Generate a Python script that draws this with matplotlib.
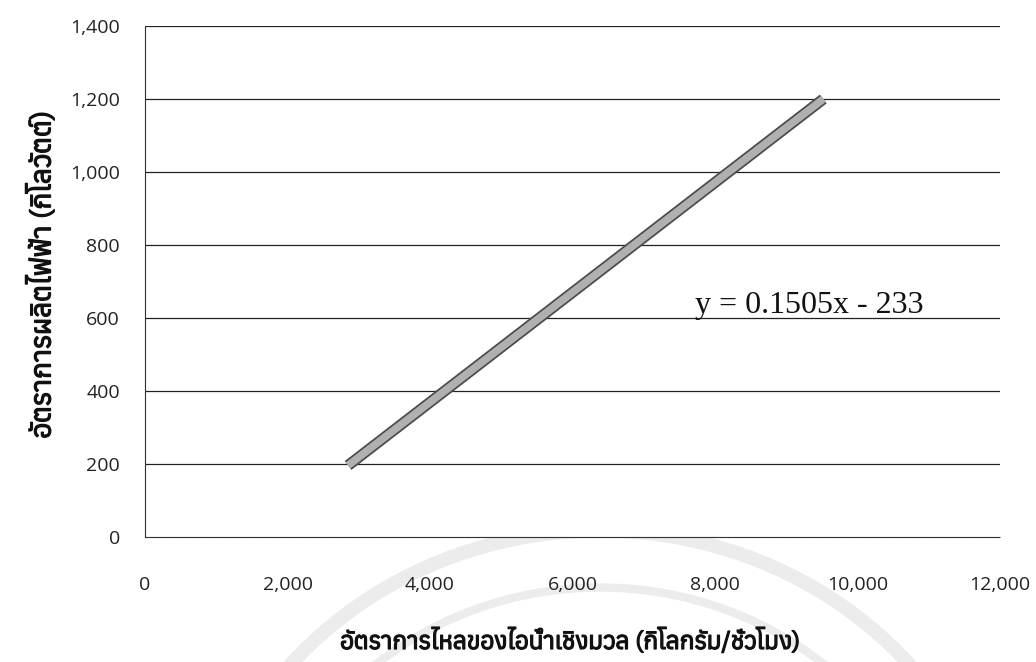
import matplotlib
matplotlib.use("Agg")
import matplotlib.pyplot as plt
from matplotlib import font_manager
from matplotlib.ft2font import FT2Font
import matplotlib.patheffects as pe
from matplotlib.patches import Arc

# Data
x_values = [2850, 9520]
y_values = [196, 1200]
x_ticks = [0, 2000, 4000, 6000, 8000, 10000, 12000]
y_ticks = [0, 200, 400, 600, 800, 1000, 1200, 1400]
equation = "y = 0.1505x - 233"
x_label = "อัตราการไหลของไอน้ำเชิงมวล (กิโลกรัม/ชั่วโมง)"
y_label = "อัตราการผลิตไฟฟ้า (กิโลวัตต์)"

# find a Thai-capable font
thai_fonts = []
for f in font_manager.fontManager.ttflist:
    try:
        ft = FT2Font(f.fname)
        if ft.get_char_index(ord("อ")) != 0:
            thai_fonts.append(f)
    except Exception:
        pass
thai_names = sorted({f.name for f in thai_fonts})
thai_family = thai_names[:3] + ["DejaVu Sans"]

fig = plt.figure(figsize=(10.36, 6.62), dpi=100)
ax = fig.add_axes([145/1036, 1-537/662, 855/1036, 511/662])

ax.plot(x_values, y_values, color="#b0b0b0", linewidth=5.5, solid_capstyle="butt",
        path_effects=[pe.Stroke(linewidth=8, foreground="#4a4a4a"), pe.Normal()], zorder=3)

ax.set_xlim(0, 12000)
ax.set_ylim(0, 1400)
ax.set_xticks(x_ticks)
ax.set_yticks(y_ticks)
tick_font = dict(fontsize=14, fontfamily="Open Sans", color="#222222")
ax.set_xticklabels([f"{v:,}" for v in x_ticks], **tick_font)
ax.set_yticklabels([f"{v:,}" for v in y_ticks], **tick_font)
ax.tick_params(length=0)
ax.tick_params(axis="x", pad=28)
ax.tick_params(axis="y", pad=18)
for yv in y_ticks[1:]:
    ax.axhline(yv, color="#222222", linewidth=0.9, zorder=1)
for s in ["top", "right"]:
    ax.spines[s].set_visible(False)
ax.spines["left"].set_color("#333333")
ax.spines["bottom"].set_color("#333333")
ax.spines["left"].set_linestyle((0, (1, 0.6)))
ax.spines["bottom"].set_linestyle((0, (1, 0.6)))

ax.text(7720, 614, equation, fontsize=23, fontfamily="Liberation Serif", color="#111111",
        va="baseline", zorder=4)

bold_fx = [pe.withStroke(linewidth=0.9, foreground="#111111")]
fig.text(570/1036, 1-641/662, x_label, ha="center", va="center", fontsize=17.5,
         fontweight="bold", family=thai_family, color="#111111", path_effects=bold_fx)
fig.text(42/1036, 1-275/662, y_label, ha="center", va="center", rotation=90, fontsize=20,
         fontweight="bold", family=thai_family, color="#111111", path_effects=bold_fx)

# faint watermark arcs
for r, lw in [(820, 10), (700, 6)]:
    arc = Arc((600/1036, 1-920/662), r/1036, r/662 * 0.95, theta1=25, theta2=155,
              transform=fig.transFigure, color="#ececec", linewidth=lw, zorder=0)
    fig.add_artist(arc)

fig.savefig("out.png", dpi=100)
